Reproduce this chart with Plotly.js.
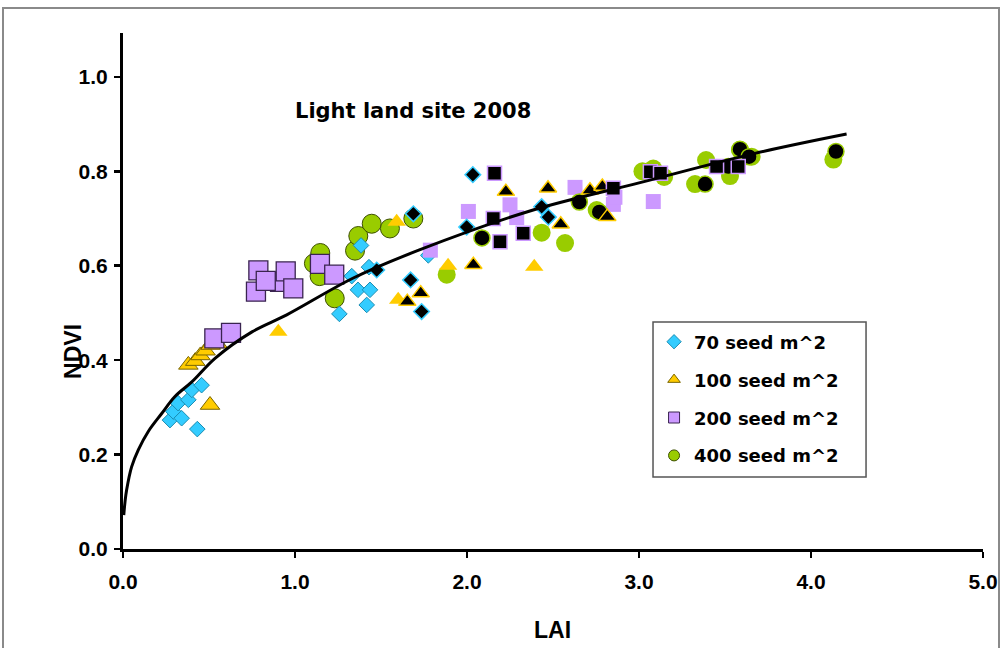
<!DOCTYPE html>
<html>
<head>
<meta charset="utf-8">
<script src="https://cdn.plot.ly/plotly-3.0.1.min.js"></script>
<style>
html,body{margin:0;padding:0;background:#fff;overflow:hidden;}
#chart{position:absolute;left:0;top:0;width:1001px;height:648px;}
#frame{position:absolute;left:2px;top:7px;width:994px;height:660px;border:2px solid #8a8a8a;pointer-events:none;}
</style>
</head>
<body>
<div id="chart"></div>
<div id="frame"></div>
<script>
// ---- data ----
const seriesNames = ["70 seed m^2", "100 seed m^2", "200 seed m^2", "400 seed m^2"];

// 70 seed m^2 (light diamonds)
const c70_x = [0.273,0.293,0.32,0.341,0.38,0.40,0.457,0.432,1.258,1.33,1.384,1.366,1.436,1.417,1.43,1.775];
const c70_y = [0.273,0.291,0.309,0.277,0.316,0.337,0.347,0.254,0.498,0.578,0.643,0.549,0.549,0.517,0.597,0.622];
// 70 seed m^2 (black diamonds)
const b70_x = [1.475,1.688,1.672,1.736,2.034,1.998,2.434,2.473];
const b70_y = [0.591,0.710,0.570,0.503,0.793,0.682,0.725,0.703];

// 100 seed m^2 (light triangles, outlined / plain)
const y100L_x = [0.38,0.42,0.45,0.48,0.51,0.55,0.506];
const y100L_y = [0.39,0.398,0.41,0.42,0.432,0.435,0.305];
const y100_x = [0.903,1.591,1.60,1.89,2.391];
const y100_y = [0.46,0.693,0.528,0.60,0.598];
// 100 seed m^2 (black triangles)
const b100_x = [1.653,1.731,2.037,2.226,2.471,2.545,2.715,2.787,2.816];
const b100_y = [0.524,0.542,0.602,0.757,0.764,0.688,0.760,0.768,0.704];

// 200 seed m^2 (light squares, outlined / plain)
const p200L_x = [0.913,0.773,0.787,0.83,0.946,0.99,0.531,0.628,1.145,1.228];
const p200L_y = [0.566,0.545,0.590,0.568,0.588,0.552,0.446,0.458,0.604,0.581];
const p200_x = [1.787,2.008,2.25,2.289,2.628,2.851,2.86,3.083];
const p200_y = [0.633,0.715,0.729,0.702,0.766,0.730,0.745,0.736];
// 200 seed m^2 (black squares)
const b200_x = [2.16,2.153,2.192,2.327,2.851,3.066,3.125,3.451,3.577];
const b200_y = [0.796,0.70,0.651,0.669,0.764,0.799,0.796,0.81,0.81];

// 400 seed m^2 (light circles, outlined / plain)
const g400L_x = [1.11,1.147,1.143,1.231,1.349,1.368,1.446,1.552,1.688];
const g400L_y = [0.605,0.627,0.578,0.531,0.632,0.663,0.689,0.679,0.70];
const g400_x = [1.882,2.434,2.57,2.754,3.02,3.083,3.146,3.326,3.39,3.529,3.587,3.655,4.13];
const g400_y = [0.581,0.67,0.648,0.718,0.80,0.806,0.788,0.773,0.824,0.79,0.845,0.831,0.825];
// 400 seed m^2 (black circles)
const b400_x = [2.087,2.653,2.769,3.384,3.519,3.587,3.64,4.145];
const b400_y = [0.659,0.735,0.714,0.773,0.81,0.847,0.831,0.842];

// trend curve, points
const fit_x = [0.0045,0.012,0.021,0.05,0.089,0.147,0.225,0.302,0.40,0.535,0.75,0.952,1.339,1.727,2.366,3.006,3.674,4.207];
const fit_y = [0.072,0.101,0.125,0.174,0.21,0.249,0.287,0.323,0.354,0.404,0.46,0.496,0.574,0.634,0.716,0.776,0.838,0.879];

const xTicks = [0,1,2,3,4,5];
const xTickText = ["0.0","1.0","2.0","3.0","4.0","5.0"];
const yTicks = [0,0.2,0.4,0.6,0.8,1.0];
const yTickText = ["0.0","0.2","0.4","0.6","0.8","1.0"];

// ---- styles ----
const CYAN = "#33CCFF", YEL = "#FFCC00", PUR = "#CC99FF", GRN = "#99CC00";
const FONT = "DejaVu Sans, Verdana, sans-serif";
const AFONT = "Liberation Sans, Arial, sans-serif";

function pts(x, y, symbol, color, size, lineColor, lineWidth) {
  return {type:"scatter", mode:"markers", x:x, y:y, showlegend:false, hoverinfo:"skip",
    marker:{symbol:symbol, color:color, size:size, line:{color:lineColor, width:lineWidth}}};
}
function legendItem(name, symbol, color, lineColor, group) {
  return {type:"scatter", mode:"markers", x:[null], y:[null], name:name, legendgroup:group,
    showlegend:true, marker:{symbol:symbol, color:color, size:11, line:{color:lineColor, width:1}}};
}

const traces = [
  pts(g400L_x, g400L_y, "circle", GRN, 19, "#3d5000", 1),
  pts(g400_x, g400_y, "circle", GRN, 18, GRN, 0),
  pts(c70_x, c70_y, "diamond", CYAN, 12, "#1a8db3", 1),
  pts(y100L_x, y100L_y, "triangle-up", YEL, 17, "#7a6600", 1),
  pts(y100_x, y100_y, "triangle-up", YEL, 16, YEL, 0),
  pts(p200L_x, p200L_y, "square", PUR, 19, "#3a2450", 1.3),
  pts(p200_x, p200_y, "square", PUR, 15, PUR, 0),
  pts(b400_x, b400_y, "circle", "#000000", 16, GRN, 1.5),
  pts(b100_x, b100_y, "triangle-up", "#000000", 15, YEL, 1.5),
  pts(b70_x, b70_y, "diamond", "#000000", 12, CYAN, 1.5),
  pts(b200_x, b200_y, "square", "#000000", 14, PUR, 1.5),
  {type:"scatter", mode:"lines", x:fit_x, y:fit_y, showlegend:false, hoverinfo:"skip",
    line:{color:"#000000", width:3, shape:"spline", smoothing:1}},
  legendItem(seriesNames[0], "diamond", CYAN, "#1a8db3", "a"),
  legendItem(seriesNames[1], "triangle-up", YEL, "#7a6600", "b"),
  legendItem(seriesNames[2], "square", PUR, "#3a2450", "c"),
  legendItem(seriesNames[3], "circle", GRN, "#3d5000", "d")
];

const axisCommon = {
  showline:true, linecolor:"#000", linewidth:3, mirror:false,
  ticks:"outside", ticklen:6, tickwidth:2.5, tickcolor:"#000",
  showgrid:false, zeroline:false,
  tickfont:{family:AFONT, size:21, color:"#000", weight:"bold"}
};

const layout = {
  width:1001, height:648,
  margin:{l:123, r:18, t:33, b:99, pad:0},
  paper_bgcolor:"rgba(0,0,0,0)", plot_bgcolor:"rgba(0,0,0,0)",
  xaxis:Object.assign({}, axisCommon, {range:[0,5], tickmode:"array", tickvals:xTicks, ticktext:xTickText, ticklabelstandoff:6}),
  yaxis:Object.assign({}, axisCommon, {range:[0,1.093], tickmode:"array", tickvals:yTicks, ticktext:yTickText, ticklabelstandoff:2}),
  showlegend:true,
  legend:{x:0.6175, y:0.437, xanchor:"left", yanchor:"top", bgcolor:"rgba(0,0,0,0)", borderwidth:0,
    font:{family:FONT, size:18, color:"#000", weight:"bold"}, tracegroupgap:11.5, itemsizing:"trace"},
  shapes:[{type:"rect", xref:"paper", yref:"paper", x0:0.6163, x1:0.864, y0:0.1395, y1:0.44,
    line:{color:"#555555", width:1.5}, fillcolor:"rgba(255,255,255,0)", layer:"below"}],
  annotations:[
    {text:"Light land site 2008", xref:"paper", yref:"paper", x:0.1977, y:0.849, xanchor:"left", yanchor:"middle",
      showarrow:false, font:{family:FONT, size:21, color:"#000", weight:"bold"}},
    {text:"NDVI", xref:"paper", yref:"paper", x:-0.0581, y:0.382, xanchor:"center", yanchor:"middle", textangle:-90,
      showarrow:false, font:{family:AFONT, size:23, color:"#000", weight:"bold"}},
    {text:"LAI", xref:"paper", yref:"paper", x:0.499, y:-0.157, xanchor:"center", yanchor:"middle",
      showarrow:false, font:{family:AFONT, size:23, color:"#000", weight:"bold"}}
  ]
};

Plotly.newPlot("chart", traces, layout, {displayModeBar:false, staticPlot:true});
</script>
</body>
</html>
